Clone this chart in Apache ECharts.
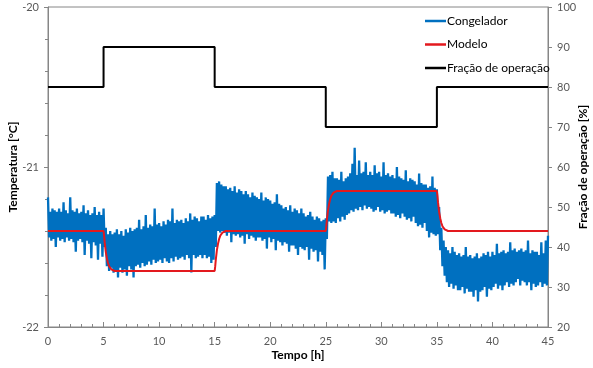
<!DOCTYPE html>
<html>
<head>
<meta charset="utf-8">
<script src="https://cdn.jsdelivr.net/npm/echarts@6/dist/echarts.min.js"></script>
<style>
  html, body { margin: 0; padding: 0; background: #fff; }
  #chart { width: 593px; height: 368px; }
</style>
</head>
<body>
<div id="chart"></div>
<script>
// temperatura medida no congelador, uma amostra a cada 0.1 h (0 .. 45 h)
var congeladorStart = 0;
var congeladorStep = 0.1;
var congeladorTemp = [
  -21.19, -21.44, -21.28, -21.46, -21.26, -21.45, -21.27, -21.50, -21.28, -21.44,
  -21.26, -21.46, -21.28, -21.45, -21.22, -21.47, -21.27, -21.44, -21.29, -21.46,
  -21.19, -21.45, -21.27, -21.47, -21.28, -21.53, -21.26, -21.46, -21.29, -21.45,
  -21.28, -21.47, -21.24, -21.55, -21.29, -21.46, -21.27, -21.48, -21.30, -21.57,
  -21.29, -21.47, -21.25, -21.49, -21.30, -21.58, -21.28, -21.48, -21.30, -21.56,
  -21.26, -21.50, -21.38, -21.62, -21.42, -21.65, -21.40, -21.63, -21.42, -21.66,
  -21.41, -21.65, -21.39, -21.69, -21.42, -21.63, -21.40, -21.66, -21.43, -21.64,
  -21.39, -21.68, -21.41, -21.62, -21.38, -21.64, -21.40, -21.69, -21.39, -21.62,
  -21.38, -21.61, -21.33, -21.63, -21.39, -21.60, -21.37, -21.62, -21.30, -21.61,
  -21.38, -21.59, -21.36, -21.61, -21.37, -21.58, -21.26, -21.60, -21.36, -21.59,
  -21.35, -21.58, -21.37, -21.60, -21.34, -21.57, -21.36, -21.59, -21.33, -21.60,
  -21.34, -21.57, -21.26, -21.59, -21.35, -21.56, -21.33, -21.58, -21.34, -21.57,
  -21.33, -21.56, -21.35, -21.58, -21.32, -21.55, -21.34, -21.57, -21.29, -21.66,
  -21.33, -21.55, -21.31, -21.57, -21.32, -21.56, -21.34, -21.55, -21.31, -21.57,
  -21.31, -21.55, -21.33, -21.57, -21.30, -21.56, -21.32, -21.60, -21.31, -21.58,
  -21.30, -21.50, -21.10, -21.40, -21.09, -21.41, -21.11, -21.40, -21.12, -21.41,
  -21.12, -21.43, -21.14, -21.41, -21.13, -21.47, -21.15, -21.42, -21.12, -21.43,
  -21.16, -21.42, -21.14, -21.44, -21.15, -21.43, -21.17, -21.48, -21.15, -21.42,
  -21.17, -21.45, -21.19, -21.43, -21.16, -21.44, -21.18, -21.46, -21.19, -21.44,
  -21.20, -21.44, -21.16, -21.46, -21.21, -21.45, -21.19, -21.51, -21.20, -21.44,
  -21.21, -21.47, -21.23, -21.45, -21.22, -21.52, -21.17, -21.46, -21.23, -21.47,
  -21.24, -21.49, -21.26, -21.47, -21.25, -21.48, -21.27, -21.53, -21.24, -21.49,
  -21.28, -21.49, -21.26, -21.51, -21.27, -21.55, -21.29, -21.50, -21.26, -21.51,
  -21.29, -21.52, -21.31, -21.50, -21.30, -21.58, -21.28, -21.51, -21.31, -21.53,
  -21.33, -21.52, -21.31, -21.59, -21.32, -21.53, -21.34, -21.55, -21.33, -21.64,
  -21.32, -21.45, -21.06, -21.34, -21.05, -21.35, -21.03, -21.34, -21.07, -21.35,
  -21.07, -21.32, -21.08, -21.34, -21.03, -21.31, -21.09, -21.33, -21.07, -21.30,
  -21.06, -21.29, -21.04, -21.27, -20.98, -21.28, -20.88, -21.26, -21.05, -21.27,
  -20.96, -21.25, -21.04, -21.27, -21.03, -21.24, -20.97, -21.26, -21.05, -21.25,
  -21.03, -21.26, -21.05, -21.28, -20.99, -21.27, -21.04, -21.25, -21.03, -21.28,
  -21.06, -21.27, -20.97, -21.29, -21.05, -21.28, -21.04, -21.27, -21.06, -21.29,
  -21.05, -21.29, -21.07, -21.31, -21.00, -21.30, -21.06, -21.32, -21.07, -21.29,
  -21.08, -21.31, -21.02, -21.33, -21.09, -21.32, -21.07, -21.34, -21.08, -21.31,
  -21.09, -21.35, -21.11, -21.37, -21.04, -21.36, -21.10, -21.38, -21.11, -21.35,
  -21.11, -21.40, -21.13, -21.44, -21.12, -21.41, -21.06, -21.42, -21.13, -21.43,
  -21.14, -21.42, -21.25, -21.52, -21.38, -21.62, -21.46, -21.68, -21.50, -21.72,
  -21.52, -21.75, -21.54, -21.73, -21.50, -21.76, -21.53, -21.74, -21.55, -21.77,
  -21.54, -21.77, -21.56, -21.75, -21.55, -21.79, -21.50, -21.76, -21.56, -21.78,
  -21.55, -21.78, -21.57, -21.81, -21.56, -21.77, -21.54, -21.84, -21.57, -21.78,
  -21.56, -21.77, -21.54, -21.75, -21.55, -21.81, -21.53, -21.76, -21.56, -21.77,
  -21.53, -21.75, -21.55, -21.73, -21.48, -21.76, -21.54, -21.74, -21.53, -21.77,
  -21.52, -21.74, -21.54, -21.72, -21.53, -21.75, -21.47, -21.73, -21.52, -21.74,
  -21.51, -21.72, -21.53, -21.70, -21.52, -21.74, -21.51, -21.71, -21.53, -21.72,
  -21.52, -21.74, -21.46, -21.72, -21.54, -21.77, -21.52, -21.73, -21.53, -21.75,
  -21.53, -21.74, -21.55, -21.72, -21.47, -21.75, -21.54, -21.73, -21.46, -21.74,
  -21.43
];

// modelo [h, °C]
var modeloTempo = [0, 5.0, 5.05, 5.1, 5.2, 5.3, 5.4, 5.5, 5.7, 6.0,
  15.0, 15.05, 15.1, 15.2, 15.3, 15.4, 15.5, 15.7, 16.0,
  25.0, 25.05, 25.1, 25.2, 25.3, 25.4, 25.5, 25.7, 26.0,
  35.0, 35.05, 35.1, 35.2, 35.3, 35.4, 35.5, 35.7, 36.0, 45];
var modeloTemp = [-21.40, -21.40, -21.43, -21.47, -21.53, -21.57, -21.60, -21.62, -21.64, -21.65,
  -21.65, -21.62, -21.58, -21.52, -21.48, -21.45, -21.43, -21.41, -21.40,
  -21.40, -21.37, -21.33, -21.27, -21.23, -21.20, -21.18, -21.16, -21.15,
  -21.15, -21.18, -21.22, -21.28, -21.32, -21.35, -21.37, -21.39, -21.40, -21.40];

// fração de operação [h, %]
var fracaoTempo = [0, 5, 5, 15, 15, 25, 25, 35, 35, 45];
var fracaoValor = [80, 80, 90, 90, 80, 80, 70, 70, 80, 80];

var xTicks = { min: 0, max: 45, interval: 5 };
var tempTicks = { min: -22, max: -20, interval: 1 };
var fracTicks = { min: 20, max: 100, interval: 10 };

var FONT = 'Lato';
var AXIS_GREY = '#868686';

var congeladorData = congeladorTemp.map(function(v, i){
	return [+(congeladorStart + i * congeladorStep).toFixed(2), v];
});
var modeloData = modeloTempo.map(function(t, i){ return [t, modeloTemp[i]]; });
var fracaoData = fracaoTempo.map(function(t, i){ return [t, fracaoValor[i]]; });

var chart = echarts.init(document.getElementById('chart'), null, { renderer: 'canvas' });

var option = {
	backgroundColor: '#fff',
	animation: false,
	textStyle: { fontFamily: FONT },
	grid: {
		left: 48, right: 45, top: 7, bottom: 41,
		containLabel: false, outerBoundsMode: 'none',
		show: true, borderColor: AXIS_GREY, borderWidth: 1
	},
	legend: {
		orient: 'vertical',
		left: 420, top: 9,
		icon: 'rect',
		itemWidth: 21, itemHeight: 2.5, itemGap: 9.5,
		textStyle: { fontFamily: FONT, fontSize: 12, color: '#000', padding: [0, 0, 0, -4], lineHeight: 14 },
		data: ['Congelador', 'Modelo', 'Fração de operação']
	},
	xAxis: {
		type: 'value',
		min: xTicks.min, max: xTicks.max, interval: xTicks.interval,
		name: 'Tempo [h]', nameLocation: 'middle', nameGap: 22, nameMoveOverlap: false,
		nameTextStyle: { fontFamily: FONT, fontWeight: 'bold', fontSize: 12, color: '#000' },
		axisLine: { lineStyle: { color: AXIS_GREY } },
		axisTick: { inside: true, length: 5, lineStyle: { color: AXIS_GREY } },
		minorTick: { show: true, splitNumber: 5, length: 3, lineStyle: { color: AXIS_GREY } },
		axisLabel: { fontFamily: FONT, fontSize: 11, color: '#595959', margin: 9 },
		splitLine: { show: false }
	},
	yAxis: [{
		type: 'value',
		min: tempTicks.min, max: tempTicks.max, interval: tempTicks.interval,
		name: 'Temperatura [°C]', nameLocation: 'middle', nameGap: 29, nameRotate: 90,
		nameMoveOverlap: false,
		nameTextStyle: { fontFamily: FONT, fontWeight: 'bold', fontSize: 12, color: '#000' },
		axisLine: { show: true, lineStyle: { color: AXIS_GREY } },
		axisTick: { show: true, length: 4, lineStyle: { color: AXIS_GREY } },
		minorTick: { show: true, splitNumber: 5, length: 3, lineStyle: { color: AXIS_GREY } },
		axisLabel: { fontFamily: FONT, fontSize: 11, color: '#595959', margin: 9 },
		splitLine: { show: false }
	}, {
		type: 'value',
		position: 'right',
		min: fracTicks.min, max: fracTicks.max, interval: fracTicks.interval,
		name: 'Fração de operação [%]', nameLocation: 'middle', nameGap: 29, nameRotate: 90,
		nameMoveOverlap: false,
		nameTextStyle: { fontFamily: FONT, fontWeight: 'bold', fontSize: 12, color: '#000' },
		axisLine: { show: true, lineStyle: { color: AXIS_GREY } },
		axisTick: { show: true, length: 4, lineStyle: { color: AXIS_GREY } },
		axisLabel: { fontFamily: FONT, fontSize: 11, color: '#595959', margin: 9 },
		splitLine: { show: false }
	}],
	series: [{
		name: 'Congelador',
		type: 'line',
		data: congeladorData,
		symbol: 'none',
		color: '#0070C0',
		lineStyle: { width: 2.3, color: '#0070C0' },
		z: 2
	}, {
		name: 'Modelo',
		type: 'line',
		data: modeloData,
		symbol: 'none',
		color: '#E3191E',
		lineStyle: { width: 2, color: '#E3191E' },
		z: 3
	}, {
		name: 'Fração de operação',
		type: 'line',
		yAxisIndex: 1,
		data: fracaoData,
		symbol: 'none',
		color: '#000',
		lineStyle: { width: 2, color: '#000' },
		z: 4
	}]
};

chart.setOption(option);
</script>
</body>
</html>
